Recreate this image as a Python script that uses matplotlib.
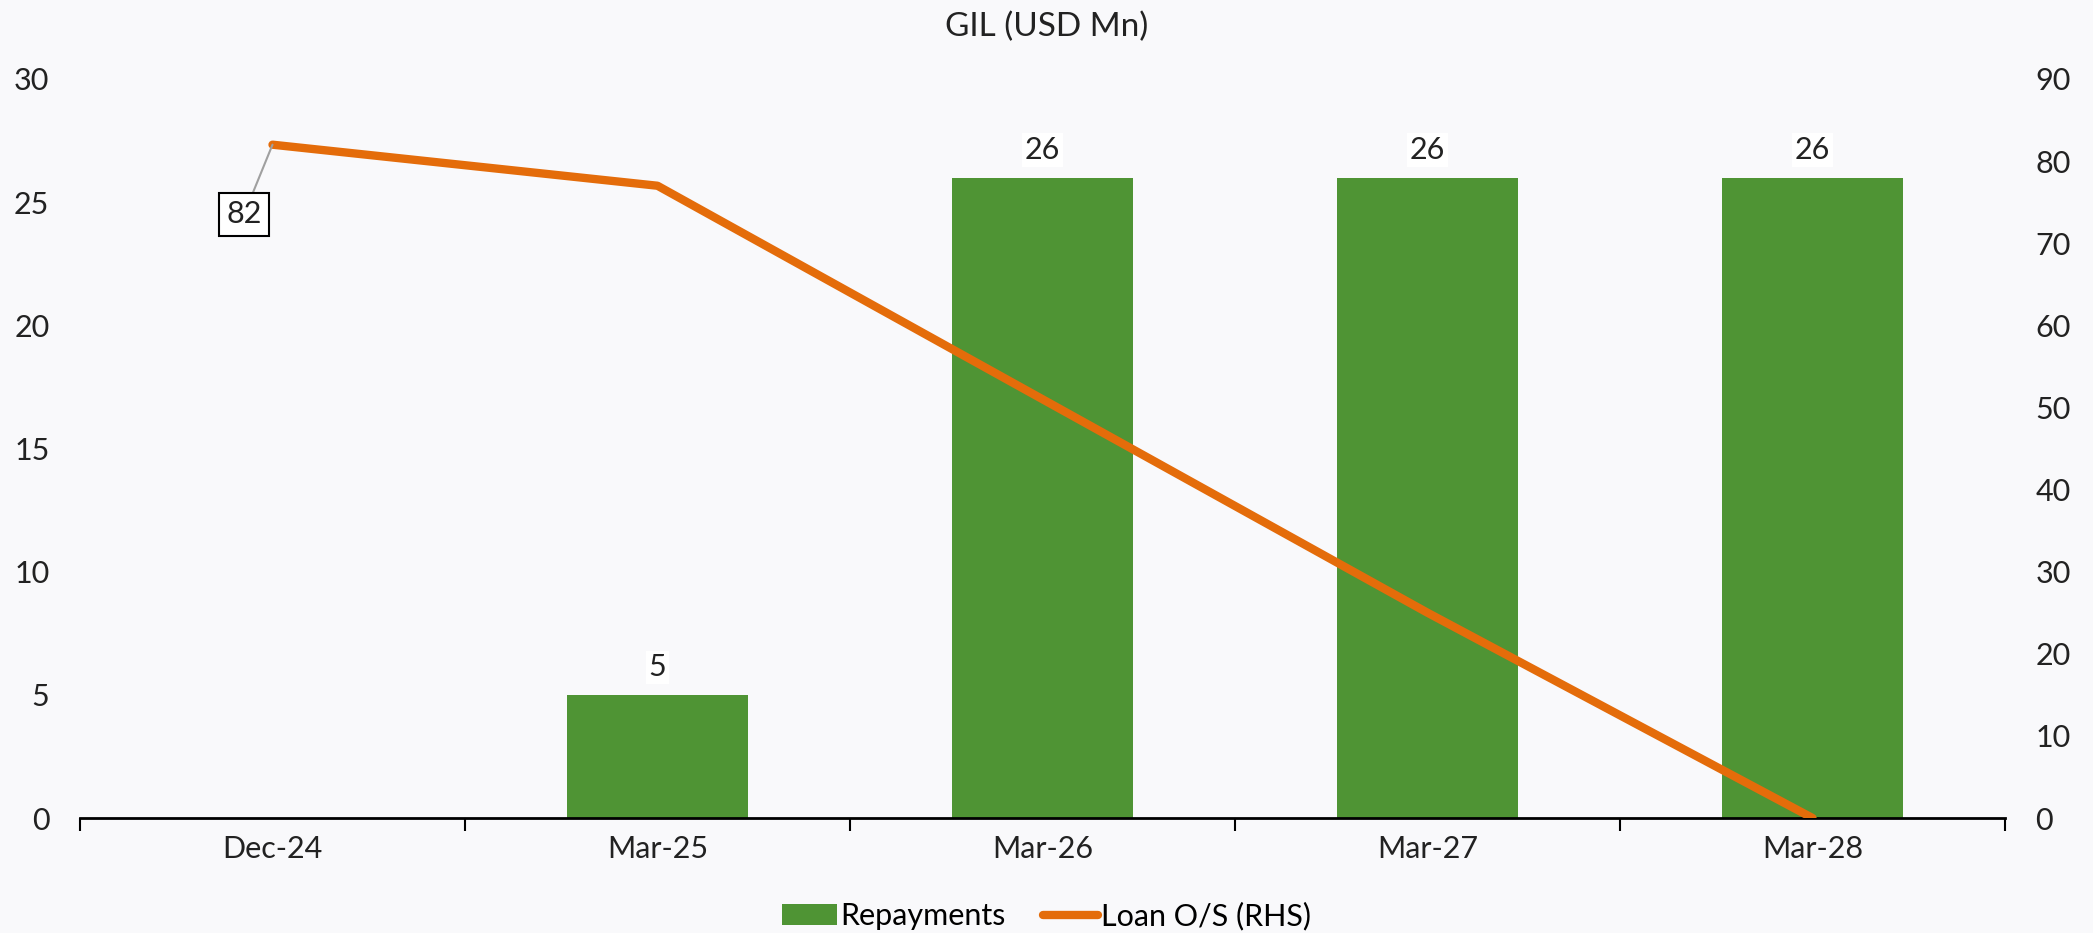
import matplotlib.pyplot as plt
import numpy as np

categories = ["Dec-24", "Mar-25", "Mar-26", "Mar-27", "Mar-28"]
repayments = [0, 5, 26, 26, 26]
loan_os = [82, 77, 51, 25, 0]

plt.rcParams['font.family'] = ['Lato', 'DejaVu Sans']

bg = "#f9f9fb"
txt = "#222222"
fs = 22
fig = plt.figure(figsize=(20.93, 9.33), dpi=100, facecolor=bg)
ax = fig.add_axes([80 / 2093, 1 - 818 / 933, (2005 - 80) / 2093, (818 - 79) / 933])
ax.set_facecolor(bg)
ax2 = ax.twinx()

x = np.arange(len(categories))
bars = ax.bar(x, repayments, width=0.47, color="#4f9434", label="Repayments", zorder=2)
for xi, v in zip(x, repayments):
    if v > 0:
        ax.text(xi, v + 0.55, f"{v}", ha="center", va="bottom", fontsize=fs, color=txt,
                bbox=dict(facecolor="white", edgecolor="none", pad=2))

ln, = ax2.plot(x, loan_os, color="#e46c0a", lw=6, solid_capstyle="round", label="Loan O/S (RHS)")
ax2.annotate(f"{loan_os[0]}", xy=(x[0], loan_os[0]), xytext=(x[0] - 0.074, loan_os[0] - 8.5),
             ha="center", va="center", fontsize=fs, color=txt,
             bbox=dict(facecolor="white", edgecolor="black", lw=1.5, pad=5),
             arrowprops=dict(arrowstyle="-", color="#a0a0a0", lw=1.5, shrinkA=0, shrinkB=0))

ax.set_xlim(-0.5, len(categories) - 0.5)
ax.set_ylim(0, 30)
ax2.set_ylim(0, 90)
ax.set_yticks(np.arange(0, 31, 5))
ax2.set_yticks(np.arange(0, 91, 10))
ax.set_xticks(x)
ax.set_xticklabels(categories)
ax.set_xticks(np.arange(-0.5, len(categories), 1), minor=True)
ax.tick_params(axis="x", which="major", length=0, labelsize=fs, pad=12, colors=txt)
ax.tick_params(axis="x", which="minor", length=9, width=1.5, direction="out")
ax.tick_params(axis="y", length=0, labelsize=fs, pad=22, colors=txt)
ax2.tick_params(axis="y", length=0, labelsize=fs, pad=22, colors=txt)
for a in (ax, ax2):
    for s in ("top", "left", "right"):
        a.spines[s].set_visible(False)
ax.spines["bottom"].set_linewidth(2)
ax2.spines["bottom"].set_visible(False)

fig.text(0.5, 1 - 27 / 933, "GIL (USD Mn)", ha="center", va="center", fontsize=24, color=txt)
fig.legend(handles=[bars, ln], loc="center", bbox_to_anchor=(0.5, 1 - 916 / 933), ncol=2,
           frameon=False, fontsize=fs, handlelength=1.8, handletextpad=0.1, columnspacing=1.2)

fig.savefig("out.png", facecolor=bg)
